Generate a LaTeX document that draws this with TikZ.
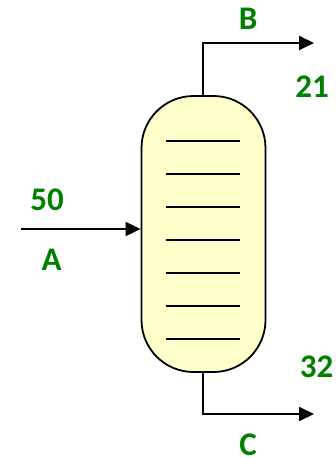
\documentclass[tikz,border=0pt]{standalone}
\usepackage{fontspec}
\setmainfont{Carlito}
\usetikzlibrary{arrows.meta}
\definecolor{lbl}{RGB}{0,128,0}
\definecolor{vfill}{RGB}{255,255,204}
\tikzset{
  lab/.style={text=lbl, font=\fontsize{33}{34}\selectfont\bfseries, inner sep=0pt, anchor=base},
  pipe/.style={draw=black, line width=2pt, -{Triangle[length=15pt,width=14pt]}},
  tray/.style={draw=black, line width=1.6pt},
}
\begin{document}
\begin{tikzpicture}[x=1pt,y=-1pt]
\useasboundingbox (0,0) rectangle (336,458);
\node[draw=black, line width=1.8pt, fill=vfill, rounded corners=52pt, minimum width=124pt, minimum height=276pt, inner sep=0pt] (col) at (203.5,234) {};
\foreach \i in {0,...,6} {
  \draw[tray] (166,{141+33*\i}) -- (240,{141+33*\i});
}
\coordinate (ain) at (21,229);
\draw[pipe] (ain) -- (col.west |- ain);
\coordinate (tb) at (203,96);
\coordinate (bo) at (314,43);
\draw[pipe] (tb) |- (bo);
\coordinate (tc) at (203,372);
\coordinate (co) at (314,414);
\draw[pipe] (tc) |- (co);
\node[lab] (l50) at (47,210.5) {50};
\node[lab] (la) at (51.5,270.5) {A};
\node[lab] (lb) at (248,29.3) {B};
\node[lab] (l21) at (312,97.3) {21};
\node[lab] (l32) at (316.5,377.3) {32};
\node[lab] (lc) at (248,455) {C};
\end{tikzpicture}
\end{document}
